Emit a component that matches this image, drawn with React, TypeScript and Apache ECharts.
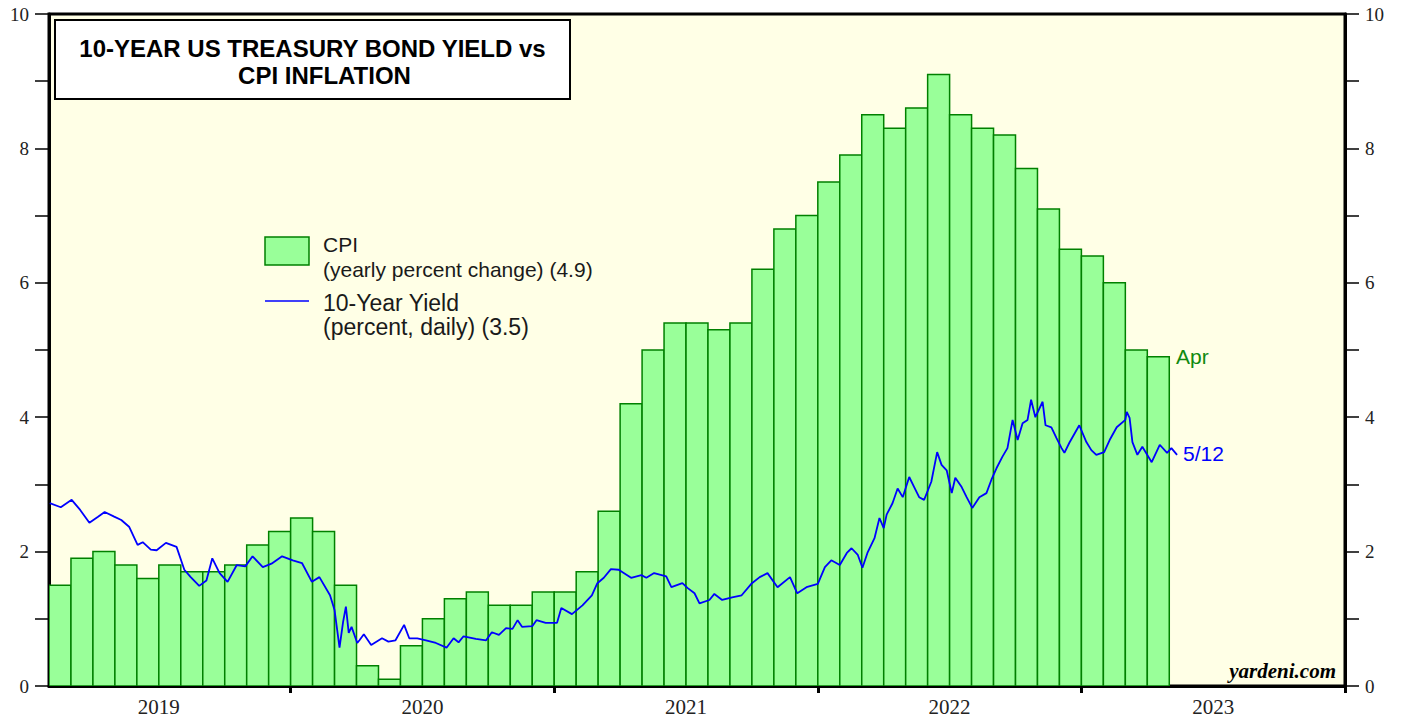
import React, { useEffect, useRef } from "react";
import * as echarts from "echarts";

// CPI, yearly percent change, monthly from Feb 2019 to Apr 2023
const cpiFirstMonth = "2019-02";
const cpiValues = [
  1.5, 1.9, 2.0, 1.8, 1.6, 1.8, 1.7, 1.7, 1.8, 2.1, 2.3,
  2.5, 2.3, 1.5, 0.3, 0.1, 0.6, 1.0, 1.3, 1.4, 1.2, 1.2, 1.4,
  1.4, 1.7, 2.6, 4.2, 5.0, 5.4, 5.4, 5.3, 5.4, 6.2, 6.8, 7.0,
  7.5, 7.9, 8.5, 8.3, 8.6, 9.1, 8.5, 8.3, 8.2, 7.7, 7.1, 6.5,
  6.4, 6.0, 5.0, 4.9,
];

// 10-Year Treasury yield (percent)
const yieldDates = [
  "2019-02-02", "2019-02-16", "2019-03-02", "2019-03-14", "2019-03-27", "2019-04-08", "2019-04-17", "2019-04-30",
  "2019-05-10", "2019-05-21", "2019-06-02", "2019-06-09", "2019-06-20", "2019-06-28", "2019-07-11", "2019-07-26",
  "2019-08-06", "2019-08-15", "2019-08-27", "2019-09-06", "2019-09-14", "2019-09-24", "2019-10-05", "2019-10-18",
  "2019-10-30", "2019-11-09", "2019-11-23", "2019-12-05", "2019-12-20", "2020-01-04", "2020-01-17", "2020-01-31",
  "2020-02-10", "2020-02-24", "2020-03-01", "2020-03-08", "2020-03-13", "2020-03-17", "2020-03-21", "2020-03-25",
  "2020-04-02", "2020-04-05", "2020-04-11", "2020-04-21", "2020-05-06", "2020-05-15", "2020-05-25", "2020-06-06",
  "2020-06-13", "2020-06-24", "2020-07-06", "2020-07-20", "2020-08-04", "2020-08-14", "2020-08-21", "2020-08-28",
  "2020-09-14", "2020-09-28", "2020-10-06", "2020-10-16", "2020-10-26", "2020-11-04", "2020-11-11", "2020-11-17",
  "2020-12-01", "2020-12-07", "2020-12-20", "2021-01-05", "2021-01-11", "2021-01-26", "2021-02-09", "2021-02-21",
  "2021-02-28", "2021-03-09", "2021-03-19", "2021-03-30", "2021-04-16", "2021-04-30", "2021-05-07", "2021-05-18",
  "2021-06-04", "2021-06-11", "2021-06-26", "2021-07-03", "2021-07-13", "2021-07-20", "2021-08-03", "2021-08-10",
  "2021-08-21", "2021-09-04", "2021-09-17", "2021-10-01", "2021-10-12", "2021-10-23", "2021-11-06", "2021-11-23",
  "2021-12-03", "2021-12-16", "2022-01-01", "2022-01-11", "2022-01-20", "2022-02-01", "2022-02-10", "2022-02-16",
  "2022-02-24", "2022-03-02", "2022-03-09", "2022-03-19", "2022-03-26", "2022-04-01", "2022-04-05", "2022-04-13",
  "2022-04-20", "2022-04-27", "2022-05-06", "2022-05-13", "2022-05-20", "2022-05-27", "2022-06-06", "2022-06-14",
  "2022-06-20", "2022-06-27", "2022-07-04", "2022-07-09", "2022-07-18", "2022-07-25", "2022-08-02", "2022-08-12",
  "2022-08-22", "2022-08-29", "2022-09-05", "2022-09-13", "2022-09-20", "2022-09-27", "2022-10-04", "2022-10-11",
  "2022-10-18", "2022-10-23", "2022-10-29", "2022-11-08", "2022-11-12", "2022-11-20", "2022-11-27", "2022-12-04",
  "2022-12-08", "2022-12-15", "2022-12-29", "2023-01-08", "2023-01-15", "2023-01-22", "2023-02-02", "2023-02-09",
  "2023-02-18", "2023-03-01", "2023-03-03", "2023-03-07", "2023-03-11", "2023-03-18", "2023-03-25", "2023-04-07",
  "2023-04-18", "2023-04-28", "2023-05-04", "2023-05-12",
];
const yieldValues = [
  2.72, 2.66, 2.77, 2.62, 2.43, 2.52, 2.59, 2.52,
  2.47, 2.37, 2.10, 2.14, 2.03, 2.02, 2.13, 2.07,
  1.73, 1.62, 1.49, 1.57, 1.90, 1.68, 1.55, 1.80,
  1.78, 1.93, 1.77, 1.82, 1.93, 1.87, 1.83, 1.55,
  1.62, 1.35, 1.13, 0.57, 0.95, 1.18, 0.79, 0.88,
  0.64, 0.68, 0.77, 0.61, 0.71, 0.66, 0.68, 0.91,
  0.71, 0.71, 0.68, 0.64, 0.57, 0.71, 0.65, 0.74,
  0.70, 0.68, 0.80, 0.76, 0.86, 0.85, 0.98, 0.88,
  0.89, 0.98, 0.94, 0.94, 1.16, 1.07, 1.20, 1.35,
  1.53, 1.61, 1.74, 1.73, 1.61, 1.65, 1.61, 1.68,
  1.63, 1.47, 1.53, 1.46, 1.38, 1.23, 1.28, 1.37,
  1.28, 1.32, 1.35, 1.53, 1.62, 1.68, 1.47, 1.62,
  1.38, 1.47, 1.52, 1.77, 1.87, 1.80, 1.98, 2.05,
  1.95, 1.76, 1.98, 2.20, 2.50, 2.35, 2.55, 2.72,
  2.94, 2.81, 3.11, 2.96, 2.81, 2.77, 3.04, 3.48,
  3.29, 3.21, 2.87, 3.10, 2.96, 2.81, 2.65, 2.81,
  2.87, 3.07, 3.24, 3.41, 3.54, 3.96, 3.66, 3.91,
  3.96, 4.26, 4.00, 4.23, 3.88, 3.85, 3.69, 3.54,
  3.47, 3.62, 3.88, 3.63, 3.51, 3.44, 3.48, 3.66,
  3.85, 3.96, 4.08, 3.99, 3.63, 3.44, 3.56, 3.33,
  3.59, 3.47, 3.54, 3.44,
];

const yAxisTicks = [0, 2, 4, 6, 8, 10];
const yearLabels = ["2019", "2020", "2021", "2022", "2023"];

const TITLE_LINES = ["10-YEAR US TREASURY BOND YIELD vs", "CPI INFLATION"];

// months since Jan 2019 (Jan 2019 = 0)
function monthPos(d: string): number {
  const parts = d.split("-").map(Number);
  const y = parts[0];
  const m = parts[1];
  const day = parts[2] || 1;
  const dim = new Date(Date.UTC(y, m, 0)).getUTCDate();
  return (y - 2019) * 12 + (m - 1) + (day - 1) / dim;
}

export default function App() {
  const ref = useRef<HTMLDivElement>(null);

  useEffect(() => {
    if (!ref.current) return;
    const chart = echarts.init(ref.current, undefined, { renderer: "svg" });

    const start = monthPos(cpiFirstMonth + "-01");
    const barData = cpiValues.map((v, i) => [start + i, v]);
    const lineData = yieldDates.map((d, i) => [monthPos(d), yieldValues[i]]);

    const yearTickPos = yearLabels.map((_, i) => 12 * (i + 1));
    const yearLabelPos = yearLabels.map((_, i) => 12 * i + 6);

    const serif = "'Liberation Serif', 'Times New Roman', serif";
    const sans = "'Liberation Sans', Arial, sans-serif";

    const yAxisCommon = {
      type: "value" as const,
      min: 0,
      max: 10,
      interval: 1,
      axisLine: { show: true, lineStyle: { color: "#000", width: 3 } },
      axisTick: { show: true, inside: false, length: 14, lineStyle: { color: "#000", width: 1.5 } },
      axisLabel: {
        show: true,
        margin: 20,
        color: "#222",
        fontFamily: serif,
        fontSize: 19,
        formatter: (v: number) => (yAxisTicks.indexOf(v) >= 0 ? String(v) : ""),
      },
      splitLine: { show: false },
    };

    const txt = (x: number, y: number, text: string, size: number, fill: string, extra: any = {}) => ({
      type: "text",
      x,
      y,
      style: { text, fontFamily: sans, fontSize: size, fill, textVerticalAlign: "middle", ...extra },
      z: 11,
    });

    const option: any = {
      animation: false,
      backgroundColor: "#fff",
      grid: {
        left: 49,
        right: 60,
        top: 14,
        bottom: 33,
        show: true,
        backgroundColor: "#FFFFE6",
        borderColor: "#000",
        borderWidth: 3,
      },
      xAxis: {
        type: "value",
        min: start,
        max: 60,
        axisLine: { show: true, lineStyle: { color: "#000", width: 3 } },
        axisTick: {
          show: true,
          inside: false,
          length: 7,
          customValues: yearTickPos,
          lineStyle: { color: "#000", width: 3 },
        },
        axisLabel: {
          show: true,
          margin: 10,
          color: "#222",
          fontFamily: serif,
          fontSize: 21,
          customValues: yearLabelPos,
          formatter: (v: number) => yearLabels[Math.floor(v / 12)] ?? "",
        },
        splitLine: { show: false },
      },
      yAxis: [
        { ...yAxisCommon, position: "left" },
        { ...yAxisCommon, position: "right" },
      ],
      series: [
        {
          type: "custom",
          name: "CPI",
          clip: true,
          data: barData,
          encode: { x: 0, y: 1 },
          renderItem: (params: any, api: any) => {
            const x0 = api.value(0);
            const v = api.value(1);
            const p0 = api.coord([x0, v]);
            const p1 = api.coord([x0 + 1, 0]);
            return {
              type: "rect",
              shape: { x: p0[0], y: p0[1], width: p1[0] - p0[0], height: p1[1] - p0[1] },
              style: { fill: "#99FF99", stroke: "#008000", lineWidth: 1.5 },
            };
          },
          z: 2,
        },
        {
          type: "line",
          name: "10-Year Yield",
          data: lineData,
          showSymbol: false,
          symbol: "none",
          lineStyle: { color: "#0000FF", width: 1.8 },
          z: 3,
        },
      ],
      graphic: [
        {
          type: "rect",
          shape: { x: 55, y: 20, width: 515, height: 79 },
          style: { fill: "#fff", stroke: "#000", lineWidth: 2 },
          z: 10,
        },
        txt(312.5, 48.5, TITLE_LINES[0], 24, "#000", { fontWeight: "bold", textAlign: "center" }),
        txt(324.5, 75.5, TITLE_LINES[1], 24, "#000", { fontWeight: "bold", textAlign: "center" }),
        // legend
        {
          type: "rect",
          shape: { x: 265, y: 237, width: 44, height: 28 },
          style: { fill: "#99FF99", stroke: "#008000", lineWidth: 1.5 },
          z: 10,
        },
        txt(323, 244, "CPI", 21, "#1a1a1a"),
        txt(323, 269, "(yearly percent change) (4.9)", 21, "#1a1a1a"),
        {
          type: "line",
          shape: { x1: 265, y1: 301, x2: 309, y2: 301 },
          style: { stroke: "#0000FF", lineWidth: 1.6 },
          z: 10,
        },
        txt(323, 302.5, "10-Year Yield", 23, "#1a1a1a"),
        txt(323, 326.5, "(percent, daily) (3.5)", 23, "#1a1a1a"),
        // end labels
        txt(1176, 356, "Apr", 21, "#108a10"),
        txt(1183, 453, "5/12", 21, "#0000FF"),
        {
          type: "text",
          x: 1336,
          y: 671,
          style: {
            text: "yardeni.com",
            fontFamily: serif,
            fontWeight: "bold",
            fontStyle: "italic",
            fontSize: 21,
            fill: "#000",
            textAlign: "right",
            textVerticalAlign: "middle",
          },
          z: 10,
        },
      ],
    };

    chart.setOption(option);
    return () => chart.dispose();
  }, []);

  return (
    <div
      ref={ref}
      style={{ position: "fixed", left: 0, top: 0, width: 1405, height: 719, background: "#fff" }}
    />
  );
}
